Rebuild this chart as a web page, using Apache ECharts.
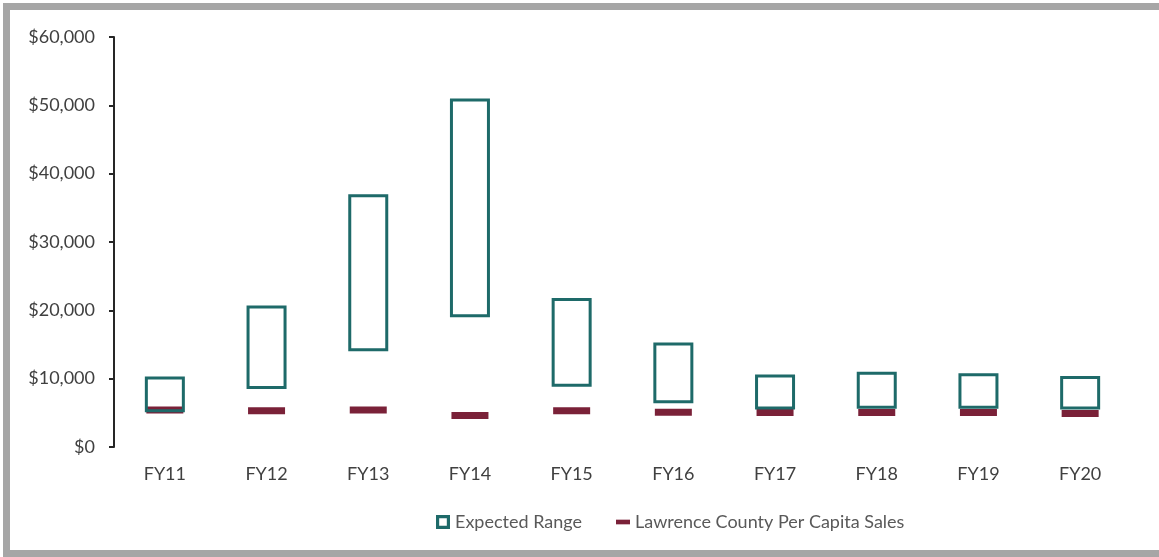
<!DOCTYPE html>
<html>
<head>
<meta charset="utf-8">
<script src="https://cdn.jsdelivr.net/npm/echarts@6/dist/echarts.min.js"></script>
<style>
  html, body { margin: 0; padding: 0; background: #fff; overflow: hidden; }
  #chart { position: absolute; left: 0; top: 0; width: 1159px; height: 557px; }
</style>
</head>
<body>
<div id="chart"></div>
<script>
// values
const categories = ['FY11', 'FY12', 'FY13', 'FY14', 'FY15', 'FY16', 'FY17', 'FY18', 'FY19', 'FY20'];
const rangeLow = [5100, 8500, 14000, 19000, 8800, 6400, 5500, 5600, 5600, 5500];
const rangeHigh = [10300, 20700, 37000, 51000, 21800, 15300, 10600, 11000, 10800, 10400];
const perCapita = [5400, 5300, 5400, 4600, 5300, 5100, 5050, 5050, 5050, 4900];

const teal = '#1e6a69';
const wine = '#7a2138';
const frameGray = '#a6a6a6';
const font = 'Lato, "Open Sans", sans-serif';

let myChart = echarts.init(document.getElementById('chart'));
let option = {
  animation: false,
  textStyle: { fontFamily: font },
  // outer frame of the picture: top, left and bottom edges only
  graphic: [
    { type: 'rect', shape: { x: 3, y: 3, width: 1170, height: 7 }, style: { fill: frameGray }, silent: true },
    { type: 'rect', shape: { x: 3, y: 3, width: 7, height: 560 }, style: { fill: frameGray }, silent: true },
    { type: 'rect', shape: { x: 3, y: 550, width: 1170, height: 7 }, style: { fill: frameGray }, silent: true }
  ],
  grid: { left: 114, right: 28, top: 37, bottom: 110 },
  legend: {
    left: 431,
    top: 508,
    itemWidth: 14,
    itemHeight: 14,
    itemGap: 34,
    textStyle: { color: '#595959', fontSize: 18, fontFamily: font },
    data: [
      {
        name: 'Expected Range',
        icon: 'path://M0,0 H11 V11 H0 Z M2.5,2.5 V8.5 H8.5 V2.5 Z',
        itemStyle: { color: teal, borderWidth: 0 }
      },
      { name: 'Lawrence County Per Capita Sales', icon: 'path://M0,0 H12 V4 H0 Z' }
    ]
  },
  xAxis: {
    type: 'category',
    data: categories,
    axisLine: { show: false },
    axisTick: { show: false },
    axisLabel: { color: '#404040', fontSize: 18, margin: 18 }
  },
  yAxis: {
    type: 'value',
    min: 0,
    max: 60000,
    interval: 10000,
    splitLine: { show: false },
    axisLine: { show: true, lineStyle: { color: '#262626', width: 2 } },
    axisTick: { show: true, length: 5, lineStyle: { color: '#262626', width: 2 } },
    axisLabel: {
      color: '#404040', fontSize: 18, margin: 19,
      formatter: v => '$' + v.toLocaleString('en-US')
    }
  },
  series: [
    {
      name: 'base',
      type: 'bar',
      stack: 'range',
      barWidth: 40,
      silent: true,
      itemStyle: { color: 'transparent' },
      data: rangeLow
    },
    {
      name: 'Expected Range',
      type: 'bar',
      stack: 'range',
      barWidth: 40,
      z: 4,
      itemStyle: { color: 'rgba(255,255,255,0)', borderColor: teal, borderWidth: 3 },
      data: rangeHigh.map((h, i) => h - rangeLow[i])
    },
    {
      name: 'Lawrence County Per Capita Sales',
      type: 'scatter',
      symbol: 'rect',
      symbolSize: [37, 7],
      symbolKeepAspect: true,
      itemStyle: { color: wine, opacity: 1 },
      z: 3,
      data: perCapita
    }
  ]
};
myChart.setOption(option);

window.addEventListener('resize', () => {
  myChart.resize();
});
</script>
</body>
</html>
